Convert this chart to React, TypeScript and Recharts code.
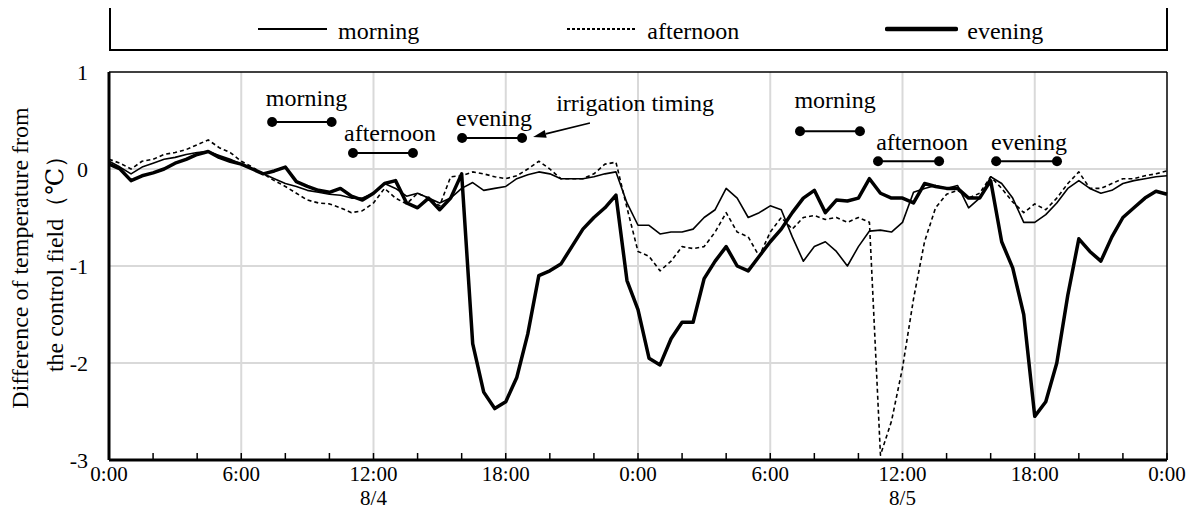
import React from 'react';
import {
  LineChart,
  Line,
  XAxis,
  YAxis,
  CartesianGrid,
  ReferenceLine,
  ReferenceDot,
} from 'recharts';

const FONT = "'Liberation Serif', 'DejaVu Serif', 'Noto Serif', 'Times New Roman', Times, serif";

// half-hourly readings, hour 0 = 0:00 on 8/4
const hours = Array.from({ length: 97 }, (_, i) => i / 2);

const morning = [
  0.08, 0.02, -0.05, 0.02, 0.06, 0.1, 0.12, 0.15, 0.17, 0.18,
  0.14, 0.1, 0.05, 0.0, -0.05, -0.1, -0.15, -0.18, -0.22, -0.24,
  -0.26, -0.27, -0.3, -0.3, -0.25, -0.15, -0.2, -0.28, -0.25, -0.3,
  -0.35, -0.3, -0.2, -0.14, -0.22, -0.2, -0.18, -0.1, -0.06, -0.03,
  -0.05, -0.1, -0.1, -0.1, -0.08, -0.05, -0.03, -0.35, -0.58, -0.58,
  -0.67, -0.65, -0.65, -0.62, -0.5, -0.42, -0.2, -0.3, -0.5, -0.45,
  -0.38, -0.42, -0.7, -0.95, -0.8, -0.75, -0.85, -1.0, -0.8, -0.64,
  -0.63, -0.65, -0.55, -0.24, -0.2, -0.17, -0.2, -0.17, -0.4, -0.3,
  -0.08, -0.15, -0.3, -0.55, -0.55, -0.47, -0.35, -0.2, -0.12, -0.2,
  -0.25, -0.22, -0.15, -0.12, -0.1, -0.08, -0.07,
];

const afternoon = [
  0.1, 0.06, 0.0, 0.08, 0.1, 0.15, 0.17, 0.2, 0.25, 0.3,
  0.22, 0.17, 0.08, 0.02, -0.05, -0.12, -0.18, -0.25, -0.32, -0.35,
  -0.36, -0.4, -0.45, -0.43, -0.35, -0.2, -0.3, -0.36, -0.25, -0.3,
  -0.38, -0.08, -0.07, -0.03, -0.05, -0.08, -0.1, -0.07, 0.0, 0.08,
  0.0, -0.1, -0.1, -0.1, -0.05, 0.05, 0.07, -0.4, -0.85, -0.9,
  -1.05, -0.95, -0.8, -0.82, -0.8, -0.65, -0.45, -0.65, -0.7, -0.9,
  -0.65, -0.5, -0.62, -0.5, -0.48, -0.52, -0.5, -0.55, -0.5, -0.55,
  -2.95, -2.6, -2.05, -1.34, -0.75, -0.4, -0.26, -0.22, -0.3, -0.25,
  -0.08, -0.2, -0.34, -0.45, -0.36, -0.42, -0.3, -0.15, -0.03, -0.2,
  -0.2, -0.15, -0.1, -0.1, -0.07, -0.05, -0.02,
];

const evening = [
  0.05, 0.0, -0.12, -0.07, -0.04, 0.0, 0.06, 0.1, 0.15, 0.18,
  0.12, 0.08, 0.05, 0.0, -0.05, -0.02, 0.02, -0.13, -0.18, -0.22,
  -0.24, -0.2, -0.28, -0.32, -0.25, -0.15, -0.12, -0.35, -0.4, -0.3,
  -0.42, -0.3, -0.05, -1.8, -2.3, -2.47, -2.4, -2.15, -1.7, -1.1,
  -1.05, -0.98, -0.8, -0.62, -0.5, -0.4, -0.27, -1.15, -1.45, -1.95,
  -2.02, -1.75, -1.58, -1.58, -1.13, -0.95, -0.8, -1.0, -1.05, -0.9,
  -0.75, -0.62, -0.45, -0.3, -0.22, -0.45, -0.32, -0.33, -0.3, -0.1,
  -0.25, -0.3, -0.3, -0.35, -0.15, -0.18, -0.2, -0.2, -0.3, -0.3,
  -0.12, -0.75, -1.02, -1.5, -2.55, -2.4, -2.0, -1.3, -0.72, -0.85,
  -0.95, -0.7, -0.5, -0.4, -0.3, -0.23, -0.26,
];

const tickHours = [0, 2, 4, 6, 8, 10, 12, 14, 16, 18, 20, 22, 24, 26, 28, 30, 32, 34, 36, 38, 40, 42, 44, 46, 48];
const gridHours = [6, 12, 18, 24, 30, 36, 42];
const yTicks = [-3, -2, -1, 0, 1];
const clockLabels: Record<number, string> = {
  0: '0:00', 6: '6:00', 12: '12:00', 18: '18:00', 24: '0:00',
  30: '6:00', 36: '12:00', 42: '18:00', 48: '0:00',
};
const dayLabels: Record<number, string> = { 12: '8/4', 36: '8/5' };

// irrigation windows (hours, level on the y scale)
const windowNames = ['morning', 'afternoon', 'evening', 'morning', 'afternoon', 'evening'];
const windowStart = [7.4, 11.07, 16.02, 31.35, 34.89, 40.25];
const windowEnd = [10.1, 13.79, 18.74, 34.07, 37.66, 43.01];
const windowLevel = [0.485, 0.165, 0.32, 0.39, 0.08, 0.08];
const nameHour = [8.96, 12.75, 17.47, 32.94, 36.89, 41.74];
const nameLevel = [0.65, 0.29, 0.44, 0.63, 0.2, 0.2];

const noteText = 'irrigation timing';
const notePos = { x: 23.87, y: 0.6 };
const arrowFrom = { x: 21.82, y: 0.474 };
const arrowTo = { x: 19.24, y: 0.33 };

const data = hours.map((h, i) => ({
  h,
  morning: morning[i],
  afternoon: afternoon[i],
  evening: evening[i],
}));

const seriesStyle = [
  { key: 'morning', width: 1.6, dash: undefined as string | undefined, legendWidth: 2 },
  { key: 'afternoon', width: 1.6, dash: '4 3', legendWidth: 2 },
  { key: 'evening', width: 3.5, dash: undefined, legendWidth: 4.5 },
];

function HourTick(props: any) {
  const { x, y, payload } = props;
  const h = payload.value;
  return (
    <g>
      <line x1={x} y1={y} x2={x} y2={y - 7} stroke="#000" strokeWidth={1.5} />
      {clockLabels[h] && (
        <text x={x} y={y + 21} textAnchor="middle" fontSize={21} fontFamily={FONT} fill="#000">
          {clockLabels[h]}
        </text>
      )}
      {dayLabels[h] && (
        <text x={x} y={y + 45} textAnchor="middle" fontSize={21} fontFamily={FONT} fill="#000">
          {dayLabels[h]}
        </text>
      )}
    </g>
  );
}

function YTitle() {
  return (
    <g fontFamily={FONT} fontSize={24} fill="#000">
      <text transform="translate(20,250) rotate(-90)" textAnchor="middle">
        Difference of temperature from
      </text>
      <text transform="translate(55,250) rotate(-90)" textAnchor="middle">
        the control field（℃）
      </text>
    </g>
  );
}

function Arrow(props: any) {
  const { x1, y1, x2, y2 } = props;
  const a = Math.atan2(y2 - y1, x2 - x1);
  const len = 13;
  const half = 4;
  const bx = x2 - len * Math.cos(a);
  const by = y2 - len * Math.sin(a);
  const px = -Math.sin(a) * half;
  const py = Math.cos(a) * half;
  return (
    <g>
      <line x1={x1} y1={y1} x2={bx} y2={by} stroke="#000" strokeWidth={1.6} />
      <polygon points={`${x2},${y2} ${bx + px},${by + py} ${bx - px},${by - py}`} fill="#000" />
    </g>
  );
}

function NameText(text: string) {
  return (p: any) => (
    <text x={p.cx} y={p.cy} textAnchor="middle" fontSize={24} fontFamily={FONT} fill="#000">
      {text}
    </text>
  );
}

function LegendBox() {
  return (
    <div
      style={{
        position: 'absolute',
        left: 101,
        top: -2,
        width: 1059,
        height: 45,
        border: '2px solid #000',
        boxSizing: 'border-box',
        display: 'flex',
        alignItems: 'center',
        paddingLeft: 145,
        gap: 146,
        fontFamily: FONT,
        fontSize: 24,
        color: '#000',
      }}
    >
      {seriesStyle.map((s) => (
        <div key={s.key} style={{ display: 'flex', alignItems: 'center', gap: 9 }}>
          <svg width={73} height={10}>
            <line
              x1={2}
              y1={5}
              x2={71}
              y2={5}
              stroke="#000"
              strokeWidth={s.legendWidth}
              strokeDasharray={s.key === 'afternoon' ? '3 2' : undefined}
              strokeLinecap={s.key === 'evening' ? 'round' : 'butt'}
            />
          </svg>
          <span style={{ lineHeight: '24px', paddingTop: 4 }}>{s.key}</span>
        </div>
      ))}
    </div>
  );
}

export default function App() {
  return (
    <div style={{ position: 'relative', width: 1182, height: 513, fontFamily: FONT }}>
      <LegendBox />
      <LineChart
        width={1182}
        height={513}
        data={data}
        margin={{ top: 64, right: 23, bottom: 0, left: 41 }}
      >
        <CartesianGrid
          stroke="#d9d9d9"
          strokeWidth={2}
          verticalValues={gridHours}
          horizontalValues={[-2, -1, 0]}
        />
        <XAxis
          dataKey="h"
          type="number"
          domain={[0, 48]}
          ticks={tickHours}
          interval={0}
          tickSize={0}
          tickMargin={0}
          height={61}
          tickLine={false}
          axisLine={{ stroke: '#000', strokeWidth: 3 }}
          tick={(p: any) => <HourTick {...p} />}
        />
        <YAxis
          type="number"
          domain={[-3, 1]}
          ticks={yTicks}
          interval={0}
          width={60}
          tickSize={0}
          tickMargin={21}
          tickLine={false}
          axisLine={{ stroke: '#000', strokeWidth: 3 }}
          tick={{ fill: '#000', fontSize: 22, fontFamily: FONT }}
          label={{ content: () => <YTitle /> }}
        />
        <ReferenceLine y={1} stroke="#000" strokeWidth={1.5} />
        <ReferenceLine x={48} stroke="#000" strokeWidth={1.5} />
        {seriesStyle.map((s) => (
          <Line
            key={s.key}
            type="linear"
            dataKey={s.key}
            stroke="#000"
            strokeWidth={s.width}
            strokeDasharray={s.dash}
            strokeLinejoin="round"
            dot={false}
            activeDot={false}
            isAnimationActive={false}
          />
        ))}
        {windowNames.map((name, i) => (
          <ReferenceLine
            key={`seg${i}`}
            segment={[
              { x: windowStart[i], y: windowLevel[i] },
              { x: windowEnd[i], y: windowLevel[i] },
            ]}
            stroke="#000"
            strokeWidth={2}
          />
        ))}
        {windowNames.map((name, i) => (
          <ReferenceDot key={`s${i}`} x={windowStart[i]} y={windowLevel[i]} r={5} fill="#000" stroke="none" />
        ))}
        {windowNames.map((name, i) => (
          <ReferenceDot key={`e${i}`} x={windowEnd[i]} y={windowLevel[i]} r={5} fill="#000" stroke="none" />
        ))}
        {windowNames.map((name, i) => (
          <ReferenceDot key={`n${i}`} x={nameHour[i]} y={nameLevel[i]} r={0} shape={NameText(name)} />
        ))}
        <ReferenceDot x={notePos.x} y={notePos.y} r={0} shape={NameText(noteText)} />
        <ReferenceLine
          segment={[arrowFrom, arrowTo]}
          shape={(p: any) => <Arrow {...p} />}
        />
      </LineChart>
    </div>
  );
}
